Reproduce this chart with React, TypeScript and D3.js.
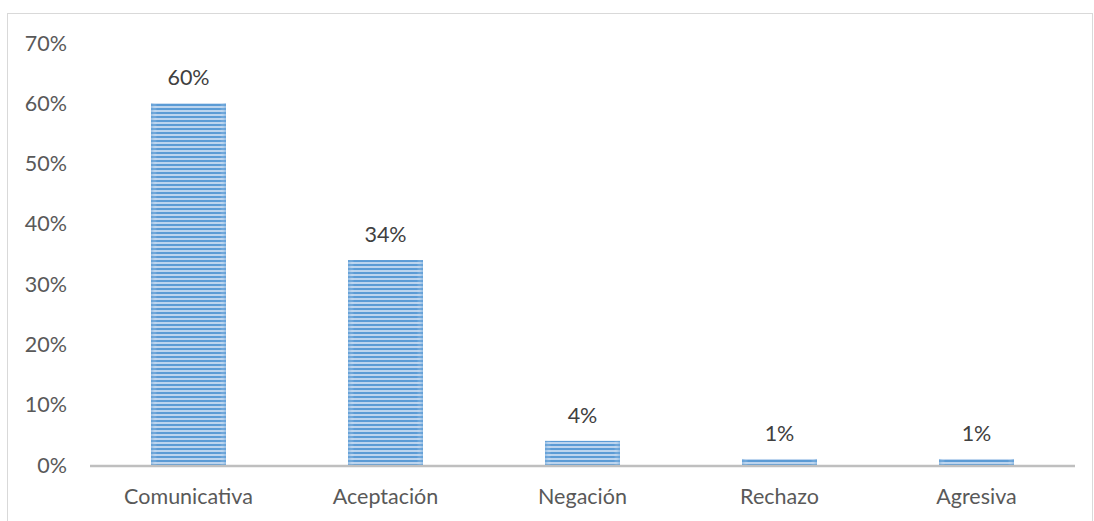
import { useEffect, useRef } from 'react';
import * as d3 from 'd3';

const categories = ['Comunicativa', 'Aceptación', 'Negación', 'Rechazo', 'Agresiva'];
const values = [0.6, 0.34, 0.04, 0.01, 0.01];
const yTicks = [0, 0.1, 0.2, 0.3, 0.4, 0.5, 0.6, 0.7];

const W = 1094;
const H = 521;

export default function App() {
  const svgRef = useRef<SVGSVGElement>(null);

  useEffect(() => {
    if (!svgRef.current) return;
    const svg = d3.select(svgRef.current);
    svg.selectAll('*').remove();

    const font = 'Lato, "Open Sans", sans-serif';
    const fontSize = 21.5;
    const textColor = '#595959';
    const plot = { left: 90, right: 1075, top: 43, bottom: 465 };

    const x = d3.scaleBand().domain(categories).range([plot.left, plot.right]).paddingInner(0.62).paddingOuter(0.31);
    const y = d3.scaleLinear().domain([0, 0.7]).range([plot.bottom, plot.top]);

    // striped fill like the Excel pattern
    const defs = svg.append('defs');
    const pat = defs.append('pattern')
      .attr('id', 'stripes')
      .attr('patternUnits', 'userSpaceOnUse')
      .attr('width', 8)
      .attr('height', 4);
    pat.append('rect').attr('width', 8).attr('height', 4).attr('fill', '#bcd4ee');
    pat.append('rect').attr('y', 0).attr('width', 8).attr('height', 2).attr('fill', '#5b9bd5');

    const edge = defs.append('linearGradient').attr('id', 'edge').attr('x1', '0%').attr('x2', '100%');
    edge.append('stop').attr('offset', '0%').attr('stop-color', '#5b9bd5').attr('stop-opacity', 0.5);
    edge.append('stop').attr('offset', '8%').attr('stop-color', '#ffffff').attr('stop-opacity', 0);
    edge.append('stop').attr('offset', '92%').attr('stop-color', '#ffffff').attr('stop-opacity', 0);
    edge.append('stop').attr('offset', '100%').attr('stop-color', '#5b9bd5').attr('stop-opacity', 0.5);

    // chart border
    svg.append('rect')
      .attr('x', 7.5).attr('y', 13.5)
      .attr('width', 1085).attr('height', 520)
      .attr('fill', '#fff')
      .attr('stroke', '#d9d9d9');

    // y tick labels
    svg.append('g').selectAll('text').data(yTicks).join('text')
      .attr('x', 67)
      .attr('y', (d) => y(d))
      .attr('dy', '0.35em')
      .attr('text-anchor', 'end')
      .attr('fill', textColor)
      .attr('font-family', font)
      .attr('font-size', fontSize)
      .text((d) => `${Math.round(d * 100)}%`);

    // bars
    const bars = svg.append('g');
    categories.forEach((c, i) => {
      const bx = x(c)!;
      const by = y(values[i]);
      const bh = y(0) - by;
      bars.append('rect')
        .attr('x', bx).attr('y', by)
        .attr('width', x.bandwidth()).attr('height', bh)
        .attr('fill', 'url(#stripes)');
      bars.append('rect')
        .attr('x', bx).attr('y', by)
        .attr('width', x.bandwidth()).attr('height', bh)
        .attr('fill', 'url(#edge)');
      bars.append('text')
        .attr('x', bx + x.bandwidth() / 2)
        .attr('y', by - 18)
        .attr('text-anchor', 'middle')
        .attr('fill', '#404040')
        .attr('font-family', font)
        .attr('font-size', fontSize)
        .text(`${Math.round(values[i] * 100)}%`);
    });

    // x axis line
    svg.append('line')
      .attr('x1', plot.left).attr('x2', plot.right)
      .attr('y1', y(0) + 1).attr('y2', y(0) + 1)
      .attr('stroke', '#bfbfbf')
      .attr('stroke-width', 2.5);

    // category labels
    svg.append('g').selectAll('text').data(categories).join('text')
      .attr('x', (d) => x(d)! + x.bandwidth() / 2)
      .attr('y', 504)
      .attr('text-anchor', 'middle')
      .attr('fill', textColor)
      .attr('font-family', font)
      .attr('font-size', fontSize)
      .text((d) => d);
  }, []);

  return (
    <svg
      ref={svgRef}
      width={W}
      height={H}
      style={{ position: 'absolute', left: 0, top: 0, display: 'block' }}
    />
  );
}
